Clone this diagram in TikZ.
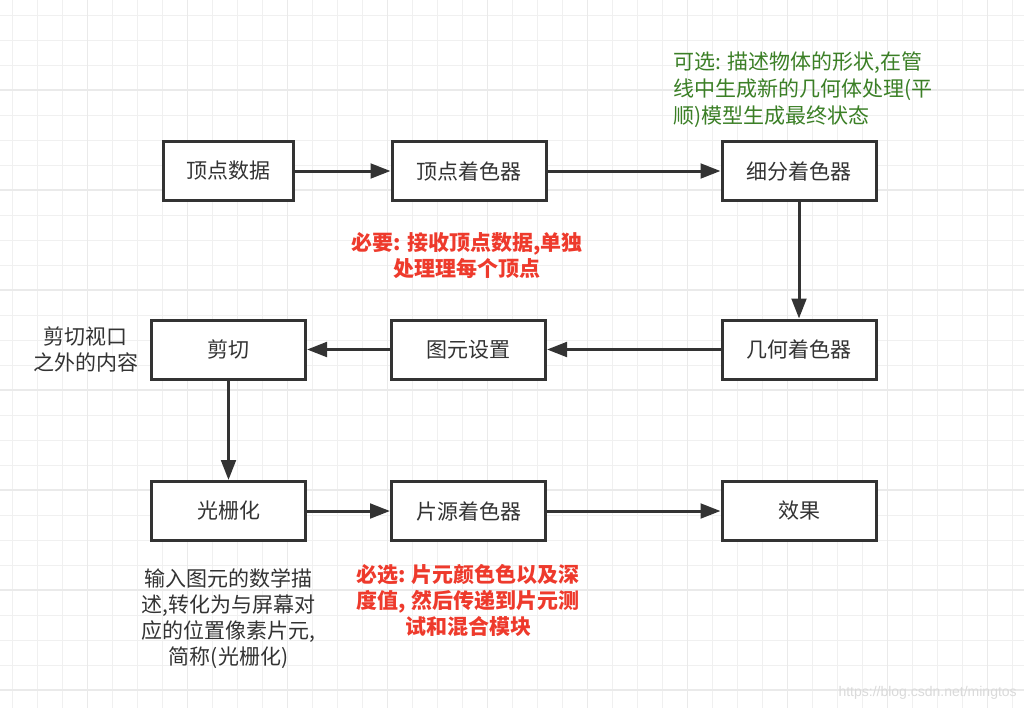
\documentclass[tikz,border=0pt]{standalone}
\usepackage{fontspec}
\newfontfamily\cjk{Noto Sans CJK SC}
\usetikzlibrary{arrows.meta}
\definecolor{ink}{HTML}{333333}
\definecolor{redtxt}{HTML}{EE3A2C}
\definecolor{greentxt}{HTML}{3B7F26}
\definecolor{gridminor}{HTML}{F0F0F0}
\definecolor{gridmajor}{HTML}{EAEAEA}
\definecolor{wmark}{HTML}{DADADA}
\tikzset{
  box/.style={draw=ink, line width=2.25pt, fill=white, minimum width=115.5pt, minimum height=44.25pt,
    inner sep=0pt, text=ink, font={\cjk\fontsize{15.75}{19.5}\selectfont}},
  flow/.style={draw=ink, line width=2.25pt, -{Triangle[length=15pt,width=11pt]}},
  note/.style={inner sep=0pt, text=ink, align=center, font={\cjk\fontsize{15.75}{19.5}\selectfont}},
  rednote/.style={note, text=redtxt, font={\cjk\bfseries\fontsize{15.75}{19.5}\selectfont}},
  greennote/.style={note, text=greentxt, align=left, font={\cjk\fontsize{15.75}{20.25}\selectfont}},
}
\begin{document}
\begin{tikzpicture}[x=0.75pt,y=-0.75pt]
\useasboundingbox (0,0) rectangle (1024,708);
\fill[white] (0,0) rectangle (1024,708);
% grid
\foreach \x in {12.5,37.5,...,1012.5} \draw[gridminor, line width=0.75pt] (\x,0) -- (\x,708);
\foreach \y in {15,40,...,705} \draw[gridminor, line width=0.75pt] (0,\y) -- (1024,\y);
\foreach \x in {87.5,187.5,...,987.5} \draw[gridmajor, line width=0.8pt] (\x,0) -- (\x,708);
\foreach \y in {90,190,...,690} \draw[gridmajor, line width=0.8pt] (0,\y) -- (1024,\y);

% boxes
\node[box, minimum width=97.5pt] (vdata) at (228.5,171) {顶点数据};
\node[box] (vshader) at (469,171) {顶点着色器};
\node[box] (tess) at (799,171) {细分着色器};
\node[box] (geom) at (799,349.5) {几何着色器};
\node[box] (prim) at (468.5,349.5) {图元设置};
\node[box] (clip) at (228.5,349.5) {剪切};
\node[box] (rast) at (228.5,511) {光栅化};
\node[box] (frag) at (468.5,511) {片源着色器};
\node[box] (result) at (799,511) {效果};

% arrows
\draw[flow] (vdata) -- (vshader);
\draw[flow] (vshader) -- (tess);
\draw[flow] (tess) -- (geom);
\draw[flow] (geom) -- (prim);
\draw[flow] (prim) -- (clip);
\draw[flow] (clip) -- (rast);
\draw[flow] (rast) -- (frag);
\draw[flow] (frag) -- (result);

% annotations
\node[greennote, anchor=west] (gnote) at (673,90) {可选: 描述物体的形状,在管\\线中生成新的几何体处理(平\\顺)模型生成最终状态};
\node[rednote] (rnote1) at (467,255.5) {必要: 接收顶点数据,单独\\处理理每个顶点};
\node[note] (clipnote) at (85.5,349) {剪切视口\\之外的内容};
\node[note] (rastnote) at (228.5,619) {输入图元的数学描\\述,转化为与屏幕对\\应的位置像素片元,\\简称(光栅化)};
\node[rednote] (rnote2) at (468,600) {必选: 片元颜色色以及深\\度值, 然后传递到片元测\\试和混合模块};

% watermark
\node[inner sep=0pt, anchor=east, text=wmark, font={\fontspec{Liberation Sans}\fontsize{10.5}{12}\selectfont}] (wm) at (1017,693) {https://blog.csdn.net/mingtos};
\end{tikzpicture}
\end{document}
